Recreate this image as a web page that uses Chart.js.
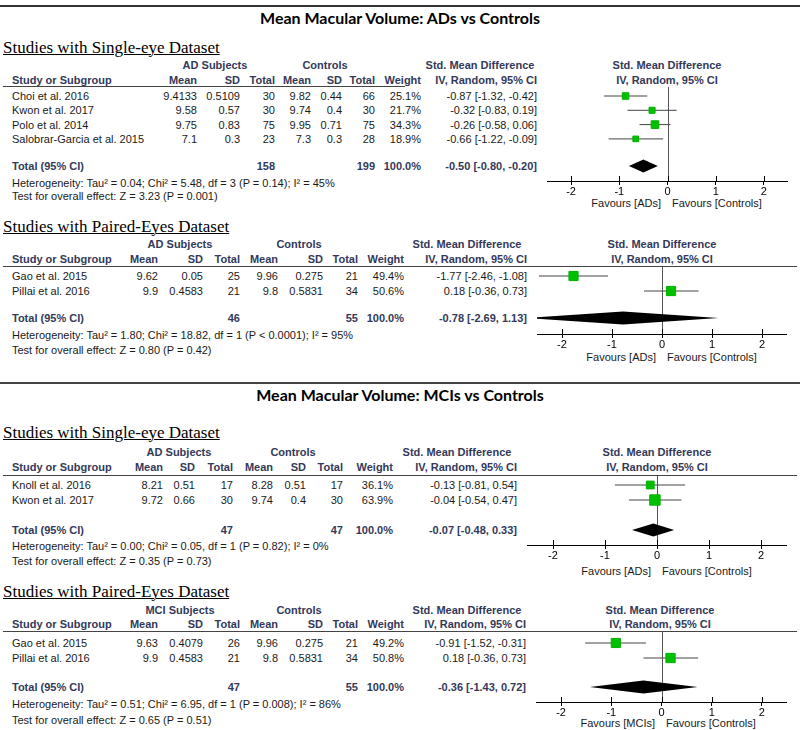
<!DOCTYPE html>
<html>
<head>
<meta charset="utf-8">
<script src="https://cdn.jsdelivr.net/npm/chart.js@4.4.1/dist/chart.umd.min.js"></script>
<style>
  body { margin: 0; background: #fff; }
  #page { position: relative; width: 800px; height: 730px; overflow: hidden;
          font-family: Arial, 'Liberation Sans', sans-serif; font-size: 11px; color: #1a1a1a; }
  .t { position: absolute; white-space: nowrap; line-height: 14px; height: 14px; }
  .h { font-weight: bold; color: #33395a; }
  .title { font-family: Lato, 'Open Sans', sans-serif; font-weight: bold; font-size: 16px; color: #000;
           line-height: 18px; height: 18px; }
  .sub { font-family: 'Liberation Serif', 'Times New Roman', serif; font-size: 17px; color: #000;
         text-decoration: underline; text-decoration-thickness: 1px; line-height: 20px; height: 20px; }
  .rule { position: absolute; }
  canvas { position: absolute; }
</style>
</head>
<body>
<div id="page"></div>
<script>
// ---- ADs vs Controls, single-eye
const studies1 = ['Choi et al. 2016', 'Kwon et al. 2017', 'Polo et al. 2014', 'Salobrar-Garcia et al. 2015'];
const expMean1 = [9.4133, 9.58, 9.75, 7.1];
const expSd1 = [0.5109, 0.57, 0.83, 0.3];
const expN1 = [30, 30, 75, 23];
const ctlMean1 = [9.82, 9.74, 9.95, 7.3];
const ctlSd1 = [0.44, 0.4, 0.71, 0.3];
const ctlN1 = [66, 30, 75, 28];
const weight1 = [25.1, 21.7, 34.3, 18.9];
const smd1 = [-0.87, -0.32, -0.26, -0.66];
const smdLo1 = [-1.32, -0.83, -0.58, -1.22];
const smdHi1 = [-0.42, 0.19, 0.06, -0.09];
const pooled1 = [-0.50, -0.80, -0.20];
const totals1 = [158, 199];
const het1 = 'Heterogeneity: Tau² = 0.04; Chi² = 5.48, df = 3 (P = 0.14); I² = 45%';
const test1 = 'Test for overall effect: Z = 3.23 (P = 0.001)';

// ---- ADs vs Controls, paired eyes
const studies2 = ['Gao et al. 2015', 'Pillai et al. 2016'];
const expMean2 = [9.62, 9.9];
const expSd2 = [0.05, 0.4583];
const expN2 = [25, 21];
const ctlMean2 = [9.96, 9.8];
const ctlSd2 = [0.275, 0.5831];
const ctlN2 = [21, 34];
const weight2 = [49.4, 50.6];
const smd2 = [-1.77, 0.18];
const smdLo2 = [-2.46, -0.36];
const smdHi2 = [-1.08, 0.73];
const pooled2 = [-0.78, -2.69, 1.13];
const totals2 = [46, 55];
const het2 = 'Heterogeneity: Tau² = 1.80; Chi² = 18.82, df = 1 (P < 0.0001); I² = 95%';
const test2 = 'Test for overall effect: Z = 0.80 (P = 0.42)';

// ---- MCIs vs Controls, single-eye
const studies3 = ['Knoll et al. 2016', 'Kwon et al. 2017'];
const expMean3 = [8.21, 9.72];
const expSd3 = [0.51, 0.66];
const expN3 = [17, 30];
const ctlMean3 = [8.28, 9.74];
const ctlSd3 = [0.51, 0.4];
const ctlN3 = [17, 30];
const weight3 = [36.1, 63.9];
const smd3 = [-0.13, -0.04];
const smdLo3 = [-0.81, -0.54];
const smdHi3 = [0.54, 0.47];
const pooled3 = [-0.07, -0.48, 0.33];
const totals3 = [47, 47];
const het3 = 'Heterogeneity: Tau² = 0.00; Chi² = 0.05, df = 1 (P = 0.82); I² = 0%';
const test3 = 'Test for overall effect: Z = 0.35 (P = 0.73)';

// ---- MCIs vs Controls, paired eyes
const studies4 = ['Gao et al. 2015', 'Pillai et al. 2016'];
const expMean4 = [9.63, 9.9];
const expSd4 = [0.4079, 0.4583];
const expN4 = [26, 21];
const ctlMean4 = [9.96, 9.8];
const ctlSd4 = [0.275, 0.5831];
const ctlN4 = [21, 34];
const weight4 = [49.2, 50.8];
const smd4 = [-0.91, 0.18];
const smdLo4 = [-1.52, -0.36];
const smdHi4 = [-0.31, 0.73];
const pooled4 = [-0.36, -1.43, 0.72];
const totals4 = [47, 55];
const het4 = 'Heterogeneity: Tau² = 0.51; Chi² = 6.95, df = 1 (P = 0.008); I² = 86%';
const test4 = 'Test for overall effect: Z = 0.65 (P = 0.51)';

const xTicks = [-2, -1, 0, 1, 2];

const page = document.getElementById('page');

function txt(x, y, s, align, cls) {
  const d = document.createElement('div');
  d.className = 't ' + (cls || '');
  d.textContent = s;
  page.appendChild(d);
  const h = d.offsetHeight;
  d.style.top = (y - h / 2) + 'px';
  if (align === 'right') d.style.right = (800 - x) + 'px';
  else if (align === 'center') { d.style.left = x + 'px'; d.style.transform = 'translateX(-50%)'; }
  else d.style.left = x + 'px';
  return d;
}

function rule(x1, x2, y, h, color) {
  const d = document.createElement('div');
  d.className = 'rule';
  d.style.left = x1 + 'px';
  d.style.width = (x2 - x1) + 'px';
  d.style.top = y + 'px';
  d.style.height = h + 'px';
  d.style.background = color;
  page.appendChild(d);
}

const fmt = v => v.toFixed(2);
const ciText = (v, lo, hi) => fmt(v) + ' [' + fmt(lo) + ', ' + fmt(hi) + ']';

// draws the pooled diamond, the zero line and the upward half of the tick marks
const forestPlugin = {
  id: 'forest',
  beforeDatasetsDraw(chart) {
    const { ctx, chartArea } = chart;
    const xs = chart.scales.x;
    const x0 = Math.round(xs.getPixelForValue(0)) + 0.5;
    ctx.save();
    ctx.strokeStyle = '#555';
    ctx.lineWidth = 1;
    ctx.beginPath();
    ctx.moveTo(x0, chartArea.top);
    ctx.lineTo(x0, chartArea.bottom);
    ctx.stroke();
    ctx.strokeStyle = '#000';
    xTicks.forEach(t => {
      const px = Math.round(xs.getPixelForValue(t)) + 0.5;
      ctx.beginPath();
      ctx.moveTo(px, chartArea.bottom - 5);
      ctx.lineTo(px, chartArea.bottom);
      ctx.stroke();
    });
    ctx.restore();
  },
  afterDatasetsDraw(chart, args, opts) {
    const { ctx, chartArea } = chart;
    const xs = chart.scales.x, ys = chart.scales.y;
    const [est, lo, hi] = opts.pooled;
    const yc = ys.getPixelForValue(opts.slot);
    ctx.save();
    ctx.beginPath();
    ctx.rect(chartArea.left, chartArea.top, chartArea.right - chartArea.left, chartArea.bottom - chartArea.top);
    ctx.clip();
    ctx.fillStyle = '#000';
    ctx.beginPath();
    ctx.moveTo(xs.getPixelForValue(lo), yc);
    ctx.lineTo(xs.getPixelForValue(est), yc - opts.half);
    ctx.lineTo(xs.getPixelForValue(hi), yc);
    ctx.lineTo(xs.getPixelForValue(est), yc + opts.half);
    ctx.closePath();
    ctx.fill();
    ctx.restore();
  }
};

function panel(p, L) {
  // subtitle and headers
  txt(3, L.sub, p.subtitle, 'left', 'sub');
  txt(L.grp[0], L.h1, p.group, 'center', 'h');
  txt(L.grp[1], L.h1, 'Controls', 'center', 'h');
  txt(L.grp[2], L.h1, 'Std. Mean Difference', 'center', 'h');
  txt(L.rightHdr, L.h1, 'Std. Mean Difference', 'center', 'h');
  txt(12, L.h2, 'Study or Subgroup', 'left', 'h');
  ['Mean', 'SD', 'Total', 'Mean', 'SD', 'Total', 'Weight', 'IV, Random, 95% CI']
    .forEach((s, i) => txt(L.cols[i], L.h2, s, 'right', 'h'));
  txt(L.rightHdr, L.h2, 'IV, Random, 95% CI', 'center', 'h');
  rule(3, L.lineEnd, L.lineY - 1, 1, '#444');

  // study rows
  p.studies.forEach((name, i) => {
    const y = L.row0 + i * L.step;
    txt(12, y, name, 'left');
    const vals = [p.em[i], p.es[i], p.en[i], p.cm[i], p.cs[i], p.cn[i],
                  p.w[i].toFixed(1) + '%', ciText(p.smd[i], p.lo[i], p.hi[i])];
    vals.forEach((v, k) => txt(L.cols[k], y, String(v), 'right'));
  });

  // total row
  const yt = L.row0 + L.totalSlot * L.step;
  txt(12, yt, 'Total (95% CI)', 'left', 'h');
  txt(L.cols[2], yt, String(p.totals[0]), 'right', 'h');
  txt(L.cols[5], yt, String(p.totals[1]), 'right', 'h');
  txt(L.cols[6], yt, '100.0%', 'right', 'h');
  txt(L.cols[7], yt, ciText(p.pooled[0], p.pooled[1], p.pooled[2]), 'right', 'h');
  txt(12, L.het, p.het, 'left');
  txt(12, L.test, p.test, 'left');

  // favours labels
  txt(L.zero - 6, L.fav, p.favLeft, 'right');
  txt(L.zero + 5, L.fav, 'Favours [Controls]', 'left');

  // forest plot
  const axisH = 17;
  const cv = document.createElement('canvas');
  const W = L.plotR - L.plotL, H = (L.axisY - L.lineY) + axisH;
  cv.width = W; cv.height = H;
  cv.style.left = L.plotL + 'px';
  cv.style.top = L.lineY + 'px';
  cv.style.width = W + 'px'; cv.style.height = H + 'px';
  page.appendChild(cv);

  const ciSets = p.studies.map((_, i) => ({
    data: [{ x: p.lo[i], y: i }, { x: p.hi[i], y: i }],
    showLine: true, borderColor: '#444', borderWidth: 1, pointRadius: 0, order: 2
  }));
  const squares = {
    data: p.smd.map((v, i) => ({ x: v, y: i })),
    pointStyle: 'rect',
    pointRadius: p.w.map(w => 1.3 * Math.sqrt(w) / Math.SQRT2),
    backgroundColor: '#00c000', borderColor: '#00b000', borderWidth: 1, order: 1
  };

  new Chart(cv, {
    type: 'scatter',
    data: { datasets: [squares, ...ciSets] },
    options: {
      responsive: false, animation: false, devicePixelRatio: 1,
      layout: { padding: 0, autoPadding: false },
      plugins: {
        legend: { display: false }, tooltip: { enabled: false },
        forest: { pooled: p.pooled, slot: L.totalSlot, half: 6.5 }
      },
      scales: {
        x: {
          type: 'linear', min: -2.5, max: 2.5,
          afterBuildTicks: s => { s.ticks = xTicks.map(v => ({ value: v })); },
          afterFit: s => { s.height = axisH; },
          ticks: { color: '#000', font: { family: 'Arial', size: 11 }, padding: 0, maxRotation: 0, autoSkip: false },
          grid: { drawOnChartArea: false, drawTicks: true, tickLength: 4, color: '#000' },
          border: { display: true, color: '#000', width: 1 }
        },
        y: {
          type: 'linear', display: false, reverse: true,
          min: (L.lineY - L.row0) / L.step, max: (L.axisY - L.row0) / L.step
        }
      }
    },
    plugins: [forestPlugin]
  });
}

// page frame
rule(0, 800, 5, 2, '#333');
rule(0, 800, 382, 2, '#444');
txt(400, 18, 'Mean Macular Volume: ADs vs Controls', 'center', 'title');
txt(400, 395, 'Mean Macular Volume: MCIs vs Controls', 'center', 'title');

panel({ subtitle: 'Studies with Single-eye Dataset', group: 'AD Subjects', favLeft: 'Favours [ADs]',
        studies: studies1, em: expMean1, es: expSd1, en: expN1, cm: ctlMean1, cs: ctlSd1, cn: ctlN1,
        w: weight1, smd: smd1, lo: smdLo1, hi: smdHi1, pooled: pooled1, totals: totals1, het: het1, test: test1 },
      { lineY: 87, lineEnd: 405, row0: 96, step: 14.3, totalSlot: 4.9, axisY: 181, plotL: 547, plotR: 788,
        cols: [197, 240, 275, 311, 342, 375, 421, 537], grp: [215, 325, 480], rightHdr: 667, zero: 667,
        sub: 48, h1: 65, h2: 80, het: 183, test: 196, fav: 203 });

panel({ subtitle: 'Studies with Paired-Eyes Dataset', group: 'AD Subjects', favLeft: 'Favours [ADs]',
        studies: studies2, em: expMean2, es: expSd2, en: expN2, cm: ctlMean2, cs: ctlSd2, cn: ctlN2,
        w: weight2, smd: smd2, lo: smdLo2, hi: smdHi2, pooled: pooled2, totals: totals2, het: het2, test: test2 },
      { lineY: 267, lineEnd: 797, row0: 276, step: 15, totalSlot: 2.8, axisY: 334, plotL: 537, plotR: 787,
        cols: [158, 203, 240, 278, 323, 358, 404, 527], grp: [180, 299, 467], rightHdr: 662, zero: 662,
        sub: 227, h1: 244, h2: 259, het: 335, test: 350, fav: 357 });

panel({ subtitle: 'Studies with Single-eye Dataset', group: 'AD Subjects', favLeft: 'Favours [ADs]',
        studies: studies3, em: expMean3, es: expSd3, en: expN3, cm: ctlMean3, cs: ctlSd3, cn: ctlN3,
        w: weight3, smd: smd3, lo: smdLo3, hi: smdHi3, pooled: pooled3, totals: totals3, het: het3, test: test3 },
      { lineY: 476, lineEnd: 797, row0: 485, step: 15, totalSlot: 3.0, axisY: 545, plotL: 527, plotR: 787,
        cols: [163, 195, 233, 273, 306, 343, 393, 517], grp: [179, 293, 457], rightHdr: 657, zero: 657,
        sub: 433, h1: 452, h2: 467, het: 546, test: 561, fav: 571 });

panel({ subtitle: 'Studies with Paired-Eyes Dataset', group: 'MCI Subjects', favLeft: 'Favours [MCIs]',
        studies: studies4, em: expMean4, es: expSd4, en: expN4, cm: ctlMean4, cs: ctlSd4, cn: ctlN4,
        w: weight4, smd: smd4, lo: smdLo4, hi: smdHi4, pooled: pooled4, totals: totals4, het: het4, test: test4 },
      { lineY: 632, lineEnd: 797, row0: 643, step: 15, totalSlot: 2.93, axisY: 702, plotL: 536, plotR: 787,
        cols: [158, 203, 240, 278, 323, 358, 404, 526], grp: [180, 299, 467], rightHdr: 660, zero: 661,
        sub: 592, h1: 610, h2: 624, het: 704, test: 720, fav: 723 });
</script>
</body>
</html>
